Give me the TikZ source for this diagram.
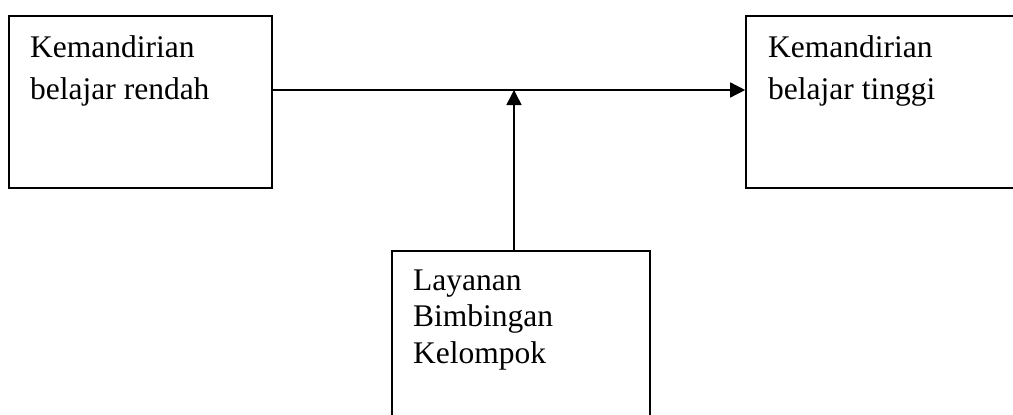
\documentclass[tikz,border=0pt]{standalone}
\usepackage{fontspec}
\setmainfont{Liberation Serif}
\usetikzlibrary{arrows.meta}

\tikzset{
  box/.style={draw, line width=1.6pt, rectangle, inner sep=0pt},
  label top/.style={anchor=base west, inner sep=0pt, align=left,
    font=\fontsize{31.5}{42}\selectfont},
  label low/.style={anchor=base west, inner sep=0pt, align=left,
    font=\fontsize{31.5}{36.5}\selectfont},
  link/.style={line width=1.5pt, -{Triangle[length=15pt,width=15pt]}}
}

\begin{document}
\begin{tikzpicture}[x=1pt, y=-1pt]
  \useasboundingbox (0,0) rectangle (1013,415);

  % the three boxes
  \node[box, minimum width=263pt, minimum height=172pt] (low)  at (140.5,102) {};
  \node[box, minimum width=274pt, minimum height=172pt] (high) at (883,102) {};
  \node[box, minimum width=258pt, minimum height=174pt] (serv) at (521,338) {};

  % box captions (anchored at the baseline of their last line)
  \node[label top] (lowtext)  at (30,99)  {Kemandirian\\belajar rendah};
  \node[label top] (hightext) at (768,99) {Kemandirian\\belajar tinggi};
  \node[label low] (servtext) at (413,363) {Layanan\\Bimbingan\\Kelompok};

  % connectors
  \coordinate (join) at (514,90);
  \draw[link] (low.east |- join) -- (high.west |- join);
  \draw[link] (serv.north -| join) -- (join);
\end{tikzpicture}
\end{document}
